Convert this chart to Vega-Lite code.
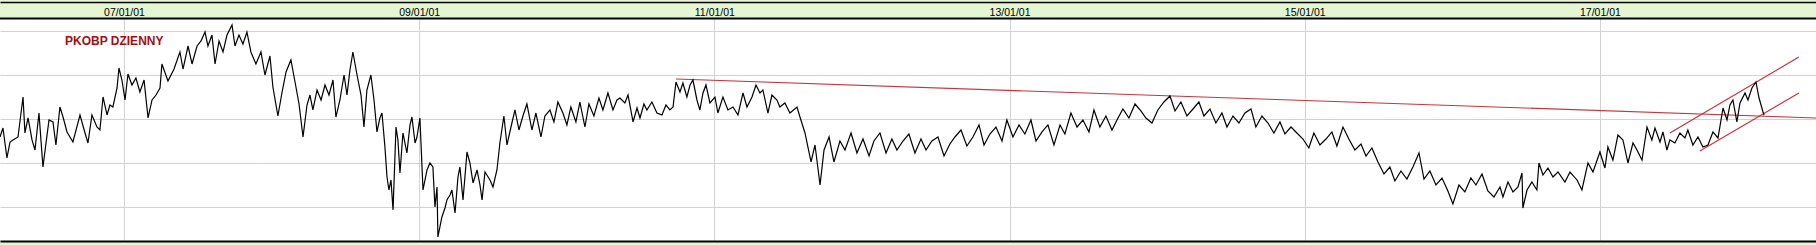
{
  "$schema": "https://vega.github.io/schema/vega-lite/v6.json",
  "width": 1816,
  "height": 239,
  "autosize": "none",
  "padding": {"top": 2, "left": 0, "right": 0, "bottom": 4},
  "background": "#e4f6d2",
  "config": {"view": {"stroke": null, "fill": "#ffffff"}},
  "title": {"text": "PKOBP DZIENNY", "anchor": "start", "frame": "group", "orient": "top", "offset": -55, "dx": 65, "color": "#a30d12", "fontSize": 12, "fontWeight": "bold", "font": "Liberation Sans", "baseline": "alphabetic"},
  "datasets": {
    "price": [
{"t":2006.160,"v":35.91},{"t":2006.180,"v":37.95},{"t":2006.207,"v":31.14},{"t":2006.228,"v":34.77},{"t":2006.248,"v":35.23},{"t":2006.282,"v":35.91},{"t":2006.316,"v":45.0},{"t":2006.329,"v":36.82},{"t":2006.350,"v":40.23},{"t":2006.377,"v":35.23},{"t":2006.397,"v":32.95},{"t":2006.424,"v":41.36},{"t":2006.451,"v":29.09},{"t":2006.492,"v":39.77},{"t":2006.519,"v":39.32},{"t":2006.539,"v":34.09},{"t":2006.566,"v":42.73},{"t":2006.587,"v":40.45},{"t":2006.614,"v":37.05},{"t":2006.654,"v":34.77},{"t":2006.702,"v":40.91},{"t":2006.736,"v":36.82},{"t":2006.756,"v":34.55},{"t":2006.783,"v":40.91},{"t":2006.817,"v":38.18},{"t":2006.837,"v":37.5},{"t":2006.858,"v":45.0},{"t":2006.885,"v":40.91},{"t":2006.905,"v":43.18},{"t":2006.925,"v":42.73},{"t":2006.953,"v":47.05},{"t":2006.966,"v":51.59},{"t":2006.986,"v":48.86},{"t":2007.007,"v":44.32},{"t":2007.027,"v":50.23},{"t":2007.054,"v":47.73},{"t":2007.081,"v":49.32},{"t":2007.108,"v":46.14},{"t":2007.136,"v":48.86},{"t":2007.163,"v":40.23},{"t":2007.190,"v":44.32},{"t":2007.217,"v":45.45},{"t":2007.244,"v":47.05},{"t":2007.257,"v":52.5},{"t":2007.298,"v":48.64},{"t":2007.339,"v":51.36},{"t":2007.379,"v":55.23},{"t":2007.400,"v":51.36},{"t":2007.434,"v":56.59},{"t":2007.461,"v":52.5},{"t":2007.495,"v":56.59},{"t":2007.522,"v":57.73},{"t":2007.549,"v":59.77},{"t":2007.569,"v":56.59},{"t":2007.596,"v":59.09},{"t":2007.617,"v":52.5},{"t":2007.644,"v":57.73},{"t":2007.671,"v":55.23},{"t":2007.698,"v":59.09},{"t":2007.732,"v":61.36},{"t":2007.752,"v":56.59},{"t":2007.779,"v":59.09},{"t":2007.806,"v":57.05},{"t":2007.833,"v":59.77},{"t":2007.860,"v":55.23},{"t":2007.894,"v":52.5},{"t":2007.928,"v":55.23},{"t":2007.955,"v":50.0},{"t":2007.989,"v":54.32},{"t":2008.009,"v":47.27},{"t":2008.043,"v":40.68},{"t":2008.070,"v":45.91},{"t":2008.098,"v":50.68},{"t":2008.131,"v":53.41},{"t":2008.159,"v":48.41},{"t":2008.186,"v":43.41},{"t":2008.213,"v":35.91},{"t":2008.240,"v":43.18},{"t":2008.260,"v":45.45},{"t":2008.280,"v":42.05},{"t":2008.308,"v":46.59},{"t":2008.335,"v":44.32},{"t":2008.362,"v":47.73},{"t":2008.389,"v":45.45},{"t":2008.416,"v":48.86},{"t":2008.436,"v":40.45},{"t":2008.463,"v":44.32},{"t":2008.491,"v":50.0},{"t":2008.511,"v":45.45},{"t":2008.531,"v":51.14},{"t":2008.551,"v":55.23},{"t":2008.579,"v":50.0},{"t":2008.606,"v":45.45},{"t":2008.626,"v":38.18},{"t":2008.646,"v":46.59},{"t":2008.673,"v":50.0},{"t":2008.694,"v":44.32},{"t":2008.714,"v":37.05},{"t":2008.734,"v":40.23},{"t":2008.748,"v":41.36},{"t":2008.768,"v":33.64},{"t":2008.782,"v":26.82},{"t":2008.795,"v":23.86},{"t":2008.809,"v":26.14},{"t":2008.823,"v":19.32},{"t":2008.843,"v":38.18},{"t":2008.856,"v":35.23},{"t":2008.870,"v":27.73},{"t":2008.890,"v":36.82},{"t":2008.917,"v":32.27},{"t":2008.938,"v":38.64},{"t":2008.951,"v":40.45},{"t":2008.972,"v":34.55},{"t":2008.985,"v":35.91},{"t":2009.005,"v":40.23},{"t":2009.026,"v":23.86},{"t":2009.053,"v":28.41},{"t":2009.073,"v":30.0},{"t":2009.093,"v":29.09},{"t":2009.107,"v":20.0},{"t":2009.121,"v":24.55},{"t":2009.127,"v":13.18},{"t":2009.154,"v":17.73},{"t":2009.175,"v":19.77},{"t":2009.188,"v":21.59},{"t":2009.209,"v":22.73},{"t":2009.222,"v":23.86},{"t":2009.243,"v":18.64},{"t":2009.263,"v":26.82},{"t":2009.276,"v":29.09},{"t":2009.297,"v":21.59},{"t":2009.324,"v":32.5},{"t":2009.344,"v":30.0},{"t":2009.365,"v":25.45},{"t":2009.392,"v":28.41},{"t":2009.412,"v":25.0},{"t":2009.426,"v":21.59},{"t":2009.446,"v":27.95},{"t":2009.480,"v":26.14},{"t":2009.500,"v":24.55},{"t":2009.527,"v":28.41},{"t":2009.547,"v":34.55},{"t":2009.574,"v":40.68},{"t":2009.595,"v":34.09},{"t":2009.622,"v":38.18},{"t":2009.649,"v":42.05},{"t":2009.676,"v":37.5},{"t":2009.703,"v":40.68},{"t":2009.730,"v":43.41},{"t":2009.764,"v":37.5},{"t":2009.791,"v":41.36},{"t":2009.825,"v":35.91},{"t":2009.852,"v":40.68},{"t":2009.886,"v":42.05},{"t":2009.913,"v":39.32},{"t":2009.940,"v":43.86},{"t":2009.974,"v":41.36},{"t":2010.001,"v":38.64},{"t":2010.028,"v":42.73},{"t":2010.062,"v":39.32},{"t":2010.089,"v":43.86},{"t":2010.123,"v":38.18},{"t":2010.150,"v":43.41},{"t":2010.184,"v":40.68},{"t":2010.218,"v":44.77},{"t":2010.245,"v":42.05},{"t":2010.279,"v":45.91},{"t":2010.313,"v":42.05},{"t":2010.340,"v":44.32},{"t":2010.360,"v":44.77},{"t":2010.394,"v":43.64},{"t":2010.415,"v":45.45},{"t":2010.449,"v":39.32},{"t":2010.476,"v":42.5},{"t":2010.496,"v":40.23},{"t":2010.523,"v":43.41},{"t":2010.543,"v":42.05},{"t":2010.577,"v":43.86},{"t":2010.611,"v":41.36},{"t":2010.645,"v":40.91},{"t":2010.672,"v":43.18},{"t":2010.699,"v":42.05},{"t":2010.720,"v":42.73},{"t":2010.740,"v":48.41},{"t":2010.767,"v":46.14},{"t":2010.787,"v":48.18},{"t":2010.814,"v":45.0},{"t":2010.835,"v":47.73},{"t":2010.855,"v":48.86},{"t":2010.882,"v":44.32},{"t":2010.902,"v":42.05},{"t":2010.923,"v":45.91},{"t":2010.943,"v":47.73},{"t":2010.970,"v":43.64},{"t":2011.004,"v":45.0},{"t":2011.024,"v":41.36},{"t":2011.058,"v":45.0},{"t":2011.092,"v":42.05},{"t":2011.126,"v":42.73},{"t":2011.160,"v":40.91},{"t":2011.194,"v":45.91},{"t":2011.221,"v":42.73},{"t":2011.255,"v":45.0},{"t":2011.282,"v":47.73},{"t":2011.309,"v":45.91},{"t":2011.329,"v":46.59},{"t":2011.363,"v":41.36},{"t":2011.390,"v":45.45},{"t":2011.424,"v":44.32},{"t":2011.444,"v":42.73},{"t":2011.478,"v":43.64},{"t":2011.512,"v":41.36},{"t":2011.560,"v":42.73},{"t":2011.580,"v":40.45},{"t":2011.614,"v":36.82},{"t":2011.655,"v":30.23},{"t":2011.682,"v":34.09},{"t":2011.716,"v":25.0},{"t":2011.743,"v":32.95},{"t":2011.777,"v":35.91},{"t":2011.810,"v":30.23},{"t":2011.851,"v":35.0},{"t":2011.885,"v":32.95},{"t":2011.926,"v":36.82},{"t":2011.966,"v":32.27},{"t":2012.007,"v":35.45},{"t":2012.048,"v":31.59},{"t":2012.081,"v":35.0},{"t":2012.122,"v":36.82},{"t":2012.163,"v":32.27},{"t":2012.203,"v":35.45},{"t":2012.237,"v":32.95},{"t":2012.278,"v":35.0},{"t":2012.318,"v":36.59},{"t":2012.359,"v":32.27},{"t":2012.400,"v":35.45},{"t":2012.434,"v":32.95},{"t":2012.474,"v":35.0},{"t":2012.515,"v":35.91},{"t":2012.556,"v":31.59},{"t":2012.596,"v":34.32},{"t":2012.630,"v":35.91},{"t":2012.671,"v":37.5},{"t":2012.711,"v":33.86},{"t":2012.752,"v":35.91},{"t":2012.793,"v":38.64},{"t":2012.827,"v":34.09},{"t":2012.867,"v":36.59},{"t":2012.908,"v":38.18},{"t":2012.949,"v":35.0},{"t":2012.982,"v":39.77},{"t":2013.023,"v":35.91},{"t":2013.064,"v":38.64},{"t":2013.104,"v":36.59},{"t":2013.145,"v":39.77},{"t":2013.179,"v":35.0},{"t":2013.220,"v":37.05},{"t":2013.260,"v":38.64},{"t":2013.301,"v":34.09},{"t":2013.342,"v":38.64},{"t":2013.375,"v":36.59},{"t":2013.416,"v":41.36},{"t":2013.457,"v":38.18},{"t":2013.497,"v":39.77},{"t":2013.538,"v":37.05},{"t":2013.572,"v":42.05},{"t":2013.612,"v":38.18},{"t":2013.653,"v":40.68},{"t":2013.694,"v":37.5},{"t":2013.728,"v":39.77},{"t":2013.768,"v":42.27},{"t":2013.809,"v":40.23},{"t":2013.850,"v":43.41},{"t":2013.890,"v":41.82},{"t":2013.924,"v":40.23},{"t":2013.965,"v":39.09},{"t":2014.005,"v":42.05},{"t":2014.046,"v":43.86},{"t":2014.087,"v":45.23},{"t":2014.121,"v":41.82},{"t":2014.161,"v":43.86},{"t":2014.202,"v":40.68},{"t":2014.243,"v":42.27},{"t":2014.283,"v":43.86},{"t":2014.317,"v":40.68},{"t":2014.358,"v":42.27},{"t":2014.398,"v":39.09},{"t":2014.439,"v":41.36},{"t":2014.473,"v":38.18},{"t":2014.514,"v":40.68},{"t":2014.554,"v":39.09},{"t":2014.595,"v":41.36},{"t":2014.636,"v":42.27},{"t":2014.669,"v":38.18},{"t":2014.710,"v":40.68},{"t":2014.751,"v":39.09},{"t":2014.791,"v":36.82},{"t":2014.832,"v":39.32},{"t":2014.866,"v":36.59},{"t":2014.907,"v":38.18},{"t":2014.947,"v":36.82},{"t":2014.988,"v":35.45},{"t":2015.028,"v":33.41},{"t":2015.062,"v":36.82},{"t":2015.103,"v":34.09},{"t":2015.144,"v":35.45},{"t":2015.184,"v":37.05},{"t":2015.218,"v":33.86},{"t":2015.259,"v":38.18},{"t":2015.299,"v":35.45},{"t":2015.340,"v":32.95},{"t":2015.381,"v":34.32},{"t":2015.415,"v":31.59},{"t":2015.455,"v":33.41},{"t":2015.496,"v":30.23},{"t":2015.537,"v":27.5},{"t":2015.577,"v":29.09},{"t":2015.611,"v":25.91},{"t":2015.652,"v":28.18},{"t":2015.692,"v":26.36},{"t":2015.733,"v":29.09},{"t":2015.774,"v":32.27},{"t":2015.808,"v":26.36},{"t":2015.848,"v":28.18},{"t":2015.889,"v":25.0},{"t":2015.930,"v":26.59},{"t":2015.970,"v":23.64},{"t":2016.004,"v":20.68},{"t":2016.045,"v":25.0},{"t":2016.085,"v":23.41},{"t":2016.126,"v":26.59},{"t":2016.160,"v":25.0},{"t":2016.201,"v":27.5},{"t":2016.241,"v":23.64},{"t":2016.282,"v":22.27},{"t":2016.323,"v":24.55},{"t":2016.343,"v":22.27},{"t":2016.377,"v":25.68},{"t":2016.411,"v":23.41},{"t":2016.445,"v":24.55},{"t":2016.472,"v":27.73},{"t":2016.478,"v":19.77},{"t":2016.506,"v":23.86},{"t":2016.539,"v":25.68},{"t":2016.573,"v":23.86},{"t":2016.587,"v":30.0},{"t":2016.614,"v":27.27},{"t":2016.648,"v":28.86},{"t":2016.682,"v":26.82},{"t":2016.716,"v":27.95},{"t":2016.763,"v":25.68},{"t":2016.797,"v":27.95},{"t":2016.845,"v":26.14},{"t":2016.878,"v":23.86},{"t":2016.919,"v":30.0},{"t":2016.953,"v":27.95},{"t":2017.000,"v":32.5},{"t":2017.034,"v":28.86},{"t":2017.054,"v":33.64},{"t":2017.088,"v":30.68},{"t":2017.122,"v":36.36},{"t":2017.156,"v":35.23},{"t":2017.190,"v":30.0},{"t":2017.224,"v":34.55},{"t":2017.251,"v":32.95},{"t":2017.285,"v":30.68},{"t":2017.319,"v":38.18},{"t":2017.352,"v":35.23},{"t":2017.373,"v":37.95},{"t":2017.407,"v":34.77},{"t":2017.427,"v":37.05},{"t":2017.454,"v":32.95},{"t":2017.474,"v":35.23},{"t":2017.508,"v":34.55},{"t":2017.542,"v":36.82},{"t":2017.576,"v":35.68},{"t":2017.596,"v":37.5},{"t":2017.630,"v":34.09},{"t":2017.664,"v":35.91},{"t":2017.698,"v":33.64},{"t":2017.732,"v":34.09},{"t":2017.766,"v":37.05},{"t":2017.800,"v":35.68},{"t":2017.834,"v":42.5},{"t":2017.861,"v":39.77},{"t":2017.881,"v":43.18},{"t":2017.901,"v":44.32},{"t":2017.928,"v":39.32},{"t":2017.949,"v":43.64},{"t":2017.983,"v":45.91},{"t":2018.003,"v":44.32},{"t":2018.030,"v":47.05},{"t":2018.057,"v":48.41},{"t":2018.078,"v":44.77},{"t":2018.105,"v":41.59},{"t":2018.112,"v":40.91}
    ],
    "trend": [
      {"id":"a","t":2010.740,"v":49.09},{"id":"a","t":2018.464,"v":40.23},
      {"id":"b","t":2017.474,"v":36.82},{"id":"b","t":2018.348,"v":54.09},
      {"id":"c","t":2017.677,"v":32.73},{"id":"c","t":2018.348,"v":45.91}
    ]
  },
  "layer": [
    {
      "data": {"name": "trend"},
      "mark": {"type": "line", "color": "#c9333d", "strokeWidth": 1.2},
      "encoding": {
        "x": {"field": "t", "type": "quantitative", "scale": {"domain": [2006.160, 2018.464], "nice": false, "zero": false},
              "axis": {"orient": "bottom", "values": [2007, 2009, 2011, 2013, 2015, 2017], "grid": true, "gridColor": "#d2d2d2", "gridWidth": 1, "labels": false, "ticks": false, "domain": true, "domainColor": "#000000", "domainWidth": 2, "title": null, "zindex": 0}},
        "y": {"field": "v", "type": "quantitative", "scale": {"domain": [12.27, 66.59], "nice": false, "zero": false},
              "axis": {"orient": "left", "values": [20, 30, 40, 50, 60], "grid": true, "gridColor": "#d2d2d2", "gridWidth": 1, "labels": false, "ticks": false, "domain": false, "title": null, "zindex": 0}},
        "detail": {"field": "id"}
      }
    },
    {
      "data": {"values": [{}]},
      "mark": {"type": "rect", "color": "#e4f6d2"},
      "encoding": {
        "y": {"datum": 62.84, "type": "quantitative", "scale": {"domain": [12.27, 66.59], "nice": false, "zero": false}},
        "y2": {"datum": 66.59}
      }
    },
    {
      "data": {"values": [{}]},
      "mark": {"type": "rule", "color": "#000000", "strokeWidth": 2},
      "encoding": {
        "y": {"datum": 62.84, "type": "quantitative", "scale": {"domain": [12.27, 66.59], "nice": false, "zero": false}}
      }
    },
    {
      "data": {"name": "price"},
      "mark": {"type": "line", "color": "#000000", "strokeWidth": 1.2},
      "encoding": {
        "x": {"field": "t", "type": "quantitative", "scale": {"domain": [2006.160, 2018.464], "nice": false, "zero": false},
              "axis": {"orient": "top", "values": [2007, 2009, 2011, 2013, 2015, 2017], "labelExpr": "slice(toString(datum.value), 2) + '/01/01'", "grid": false, "ticks": false, "tickSize": 0, "domain": true, "domainColor": "#000000", "domainWidth": 1.3, "labelPadding": -13, "labelBaseline": "alphabetic", "labelFontSize": 10.5, "labelFont": "Liberation Sans", "labelColor": "#000000", "labelFlush": false, "labelOverlap": false, "title": null, "zindex": 1}},
        "y": {"field": "v", "type": "quantitative", "scale": {"domain": [12.27, 66.59], "nice": false, "zero": false}}
      }
    }
  ]
}
